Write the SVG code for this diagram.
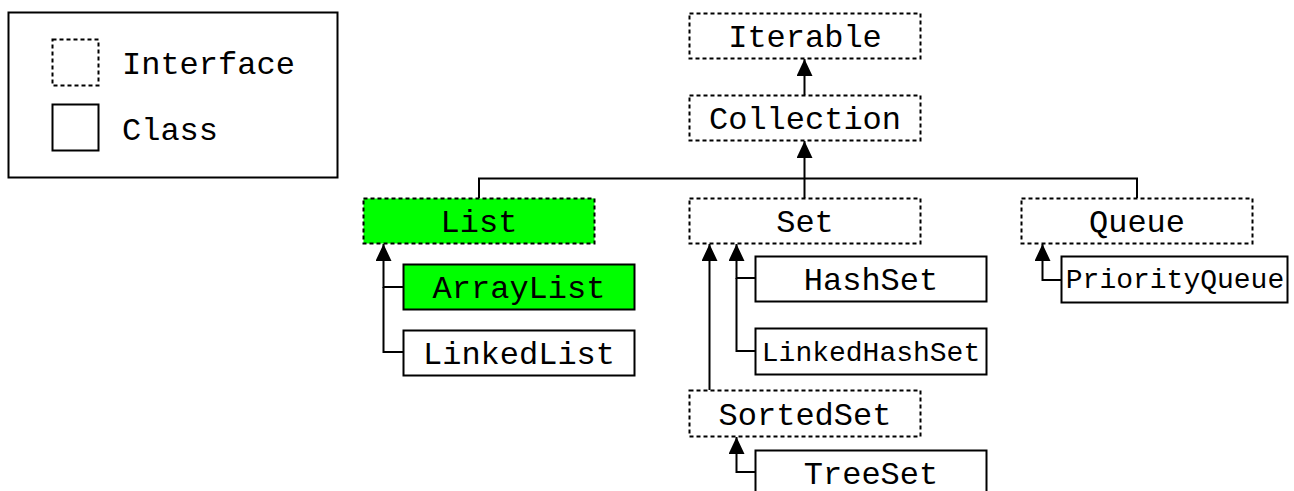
<svg xmlns="http://www.w3.org/2000/svg" width="1294" height="491" viewBox="0 0 1294 491">
<style>
.iface{fill:#fff;stroke:#000;stroke-width:2;stroke-dasharray:4 3}
.cls{fill:#fff;stroke:#000;stroke-width:2}
.hl{fill:#00ff00}
.t{font-family:"Liberation Mono","DejaVu Sans Mono",monospace;font-size:32px;fill:#000;text-anchor:middle}
.s{font-size:28px}
.lg{text-anchor:start}
.c{fill:none;stroke:#000;stroke-width:2}
</style>
<defs>
<marker id="arr" viewBox="0 0 17 16" refX="17" refY="8" markerWidth="17" markerHeight="16" markerUnits="userSpaceOnUse" orient="auto">
<path d="M0,0 L17,8 L0,16 Z" fill="#000"/>
</marker>
</defs>
<rect width="1294" height="491" fill="#fff"/>
<g id="legend">
<rect x="8.5" y="12.5" width="329" height="165" class="cls"/>
<rect x="52.5" y="39.5" width="46" height="46" class="iface"/>
<rect x="52.5" y="104.5" width="46" height="46" class="cls"/>
<text x="122" y="74" class="t lg">Interface</text>
<text x="122" y="140" class="t lg">Class</text>
</g>
<g id="connectors">
<path class="c" d="M804.5,95 V59" marker-end="url(#arr)"/>
<path class="c" d="M804.5,198 V141" marker-end="url(#arr)"/>
<path class="c" d="M479,198 V178.5 H1137 V198"/>
<path class="c" d="M403,287 H383.5 V244" marker-end="url(#arr)"/>
<path class="c" d="M403,352 H383.5 V287"/>
<path class="c" d="M755,278 H736.5 V244" marker-end="url(#arr)"/>
<path class="c" d="M755,351 H736.5 V278"/>
<path class="c" d="M709.5,390 V244" marker-end="url(#arr)"/>
<path class="c" d="M755,472 H736.5 V437" marker-end="url(#arr)"/>
<path class="c" d="M1062,280 H1042.5 V244" marker-end="url(#arr)"/>
</g>
<g id="iterable"><rect x="689.5" y="13.5" width="231" height="45" class="iface"/><text x="805" y="47" class="t">Iterable</text></g>
<g id="collection"><rect x="689.5" y="95.5" width="231" height="45" class="iface"/><text x="805" y="129" class="t">Collection</text></g>
<g id="list"><rect x="363.5" y="198.5" width="231" height="45" class="iface hl"/><text x="479" y="232" class="t">List</text></g>
<g id="set"><rect x="689.5" y="198.5" width="231" height="45" class="iface"/><text x="805" y="232" class="t">Set</text></g>
<g id="queue"><rect x="1021.5" y="198.5" width="231" height="45" class="iface"/><text x="1137" y="232" class="t">Queue</text></g>
<g id="arraylist"><rect x="403.5" y="264.5" width="231" height="45" class="cls hl"/><text x="519" y="298" class="t">ArrayList</text></g>
<g id="linkedlist"><rect x="403.5" y="330.5" width="231" height="45" class="cls"/><text x="519" y="364" class="t">LinkedList</text></g>
<g id="hashset"><rect x="755.5" y="256.5" width="231" height="45" class="cls"/><text x="871" y="290" class="t">HashSet</text></g>
<g id="linkedhashset"><rect x="755.5" y="328.5" width="231" height="46" class="cls"/><text x="871" y="361" class="t s">LinkedHashSet</text></g>
<g id="sortedset"><rect x="689.5" y="390.5" width="231" height="46" class="iface"/><text x="805" y="425" class="t">SortedSet</text></g>
<g id="treeset"><rect x="755.5" y="450.5" width="231" height="46" class="cls"/><text x="871" y="484" class="t">TreeSet</text></g>
<g id="priorityqueue"><rect x="1061.5" y="256.5" width="226" height="46" class="cls"/><text x="1175" y="288" class="t s">PriorityQueue</text></g>
</svg>
